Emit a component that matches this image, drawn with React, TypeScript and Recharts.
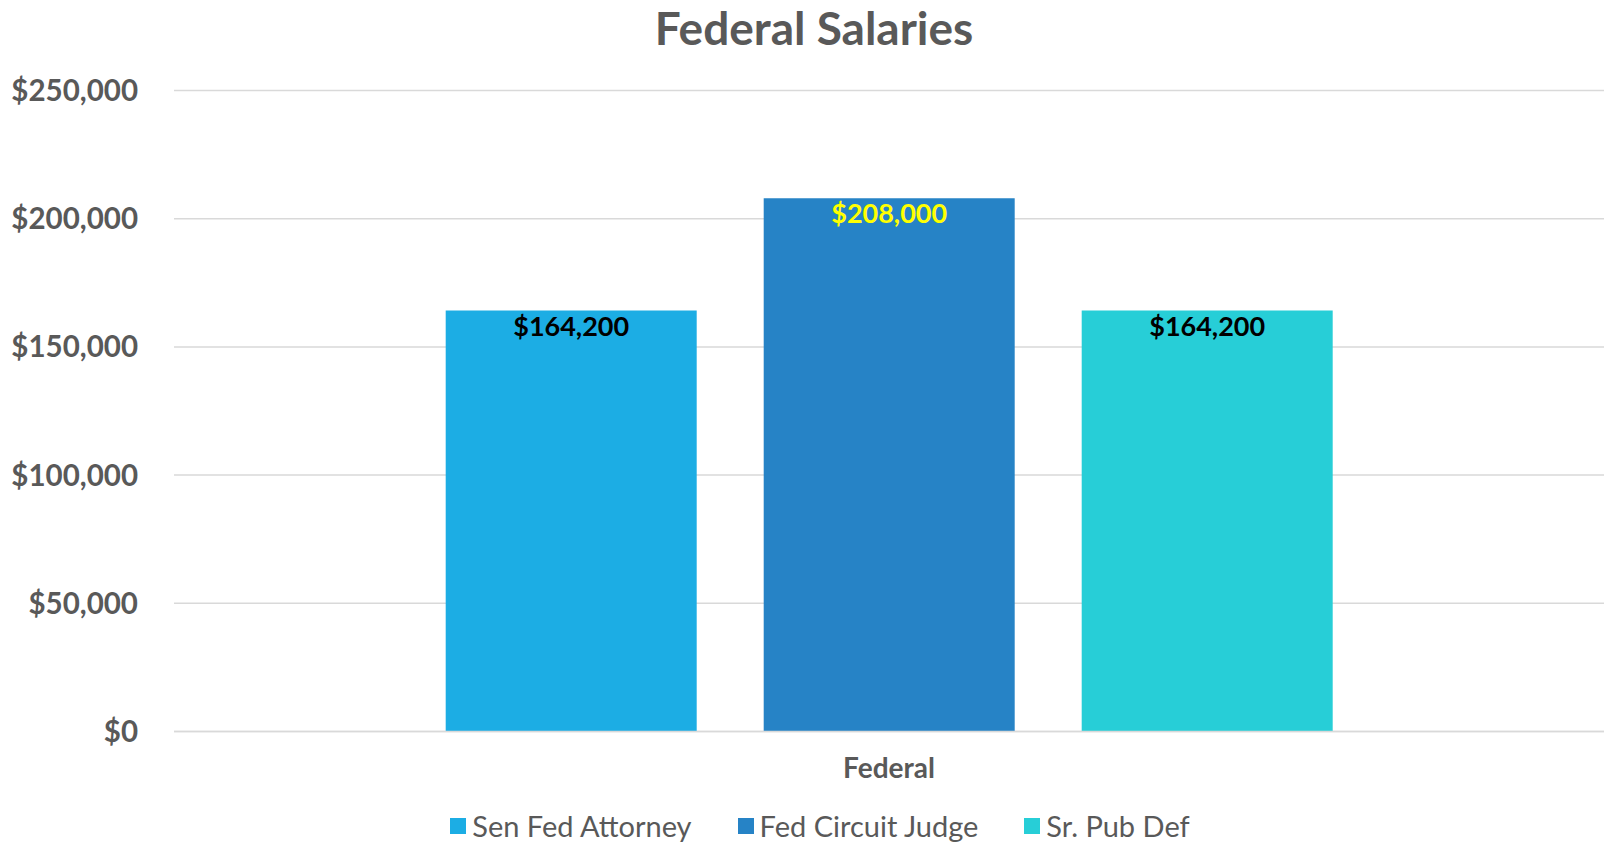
import React from 'react'
import {
  BarChart,
  Bar,
  XAxis,
  YAxis,
  CartesianGrid,
  Legend,
  LabelList,
} from 'recharts'

const categories = ['Federal']
const seriesNames = ['Sen Fed Attorney', 'Fed Circuit Judge', 'Sr. Pub Def']
const seriesKeys = ['attorney', 'judge', 'defender']
const attorneyValues = [164200]
const judgeValues = [208000]
const defenderValues = [164200]
const yTicks = [0, 50000, 100000, 150000, 200000, 250000]

const colors = ['#1CADE4', '#2683C6', '#27CED7']
const labelColors = ['#000000', '#FFFF00', '#000000']

const data = categories.map((name, i) => ({
  name,
  attorney: attorneyValues[i],
  judge: judgeValues[i],
  defender: defenderValues[i],
}))

const FONT = 'Lato, "Open Sans", sans-serif'
const GREY = '#595959'

const money = (v: number) => `$${v.toLocaleString('en-US')}`

// keep the series order, recharts sorts the payload by name
function LegendRow() {
  return (
    <div
      style={{
        display: 'flex',
        justifyContent: 'center',
        gap: 46,
        fontFamily: FONT,
        fontSize: 29,
        color: GREY,
        lineHeight: '34px',
      }}
    >
      {seriesNames.map((n, i) => (
        <div key={n} style={{ display: 'flex', alignItems: 'center' }}>
          <span
            style={{
              display: 'inline-block',
              width: 16,
              height: 16,
              background: colors[i],
              marginRight: 6,
            }}
          />
          <span>{n}</span>
        </div>
      ))}
    </div>
  )
}

export default function App() {
  return (
    <div style={{ position: 'absolute', left: 0, top: 0, width: 1604, height: 843, background: '#fff' }}>
      <div
        style={{
          position: 'absolute',
          top: 0,
          left: 514,
          width: 600,
          textAlign: 'center',
          fontFamily: FONT,
          fontWeight: 700,
          fontSize: 46,
          color: GREY,
          whiteSpace: 'nowrap',
        }}
      >
        Federal Salaries
      </div>
      <BarChart
        width={1604}
        height={843}
        data={data}
        margin={{ top: 90.5, right: 0, bottom: 71.5, left: 0 }}
        barCategoryGap="19%"
        barGap={67}
      >
        <CartesianGrid vertical={false} stroke="#d9d9d9" strokeWidth={1.5} />
        <XAxis
          dataKey="name"
          height={40}
          axisLine={{ stroke: '#d9d9d9', strokeWidth: 1.5 }}
          tickLine={false}
          tickSize={0}
          tickMargin={27}
          tick={{ fill: GREY, fontSize: 28, fontWeight: 700, fontFamily: FONT }}
        />
        <YAxis
          width={174}
          domain={[0, 250000]}
          ticks={yTicks}
          axisLine={false}
          tickLine={false}
          tickSize={0}
          tickMargin={36}
          tickFormatter={money}
          tick={{ fill: GREY, fontSize: 29.5, fontWeight: 700, fontFamily: FONT }}
        />
        <Legend
          verticalAlign="middle"
          align="center"
          content={<LegendRow />}
          wrapperStyle={{ top: 809, left: 18, width: 1604 }}
        />
        {seriesKeys.map((k, i) => (
          <Bar
            key={k}
            dataKey={k}
            name={seriesNames[i]}
            fill={colors[i]}
            isAnimationActive={false}
          >
            <LabelList
              dataKey={k}
              position="insideTop"
              offset={6}
              formatter={(v: any) => money(Number(v))}
              fill={labelColors[i]}
              style={{ fontSize: 27, fontWeight: 700, fontFamily: FONT }}
            />
          </Bar>
        ))}
      </BarChart>
    </div>
  )
}
